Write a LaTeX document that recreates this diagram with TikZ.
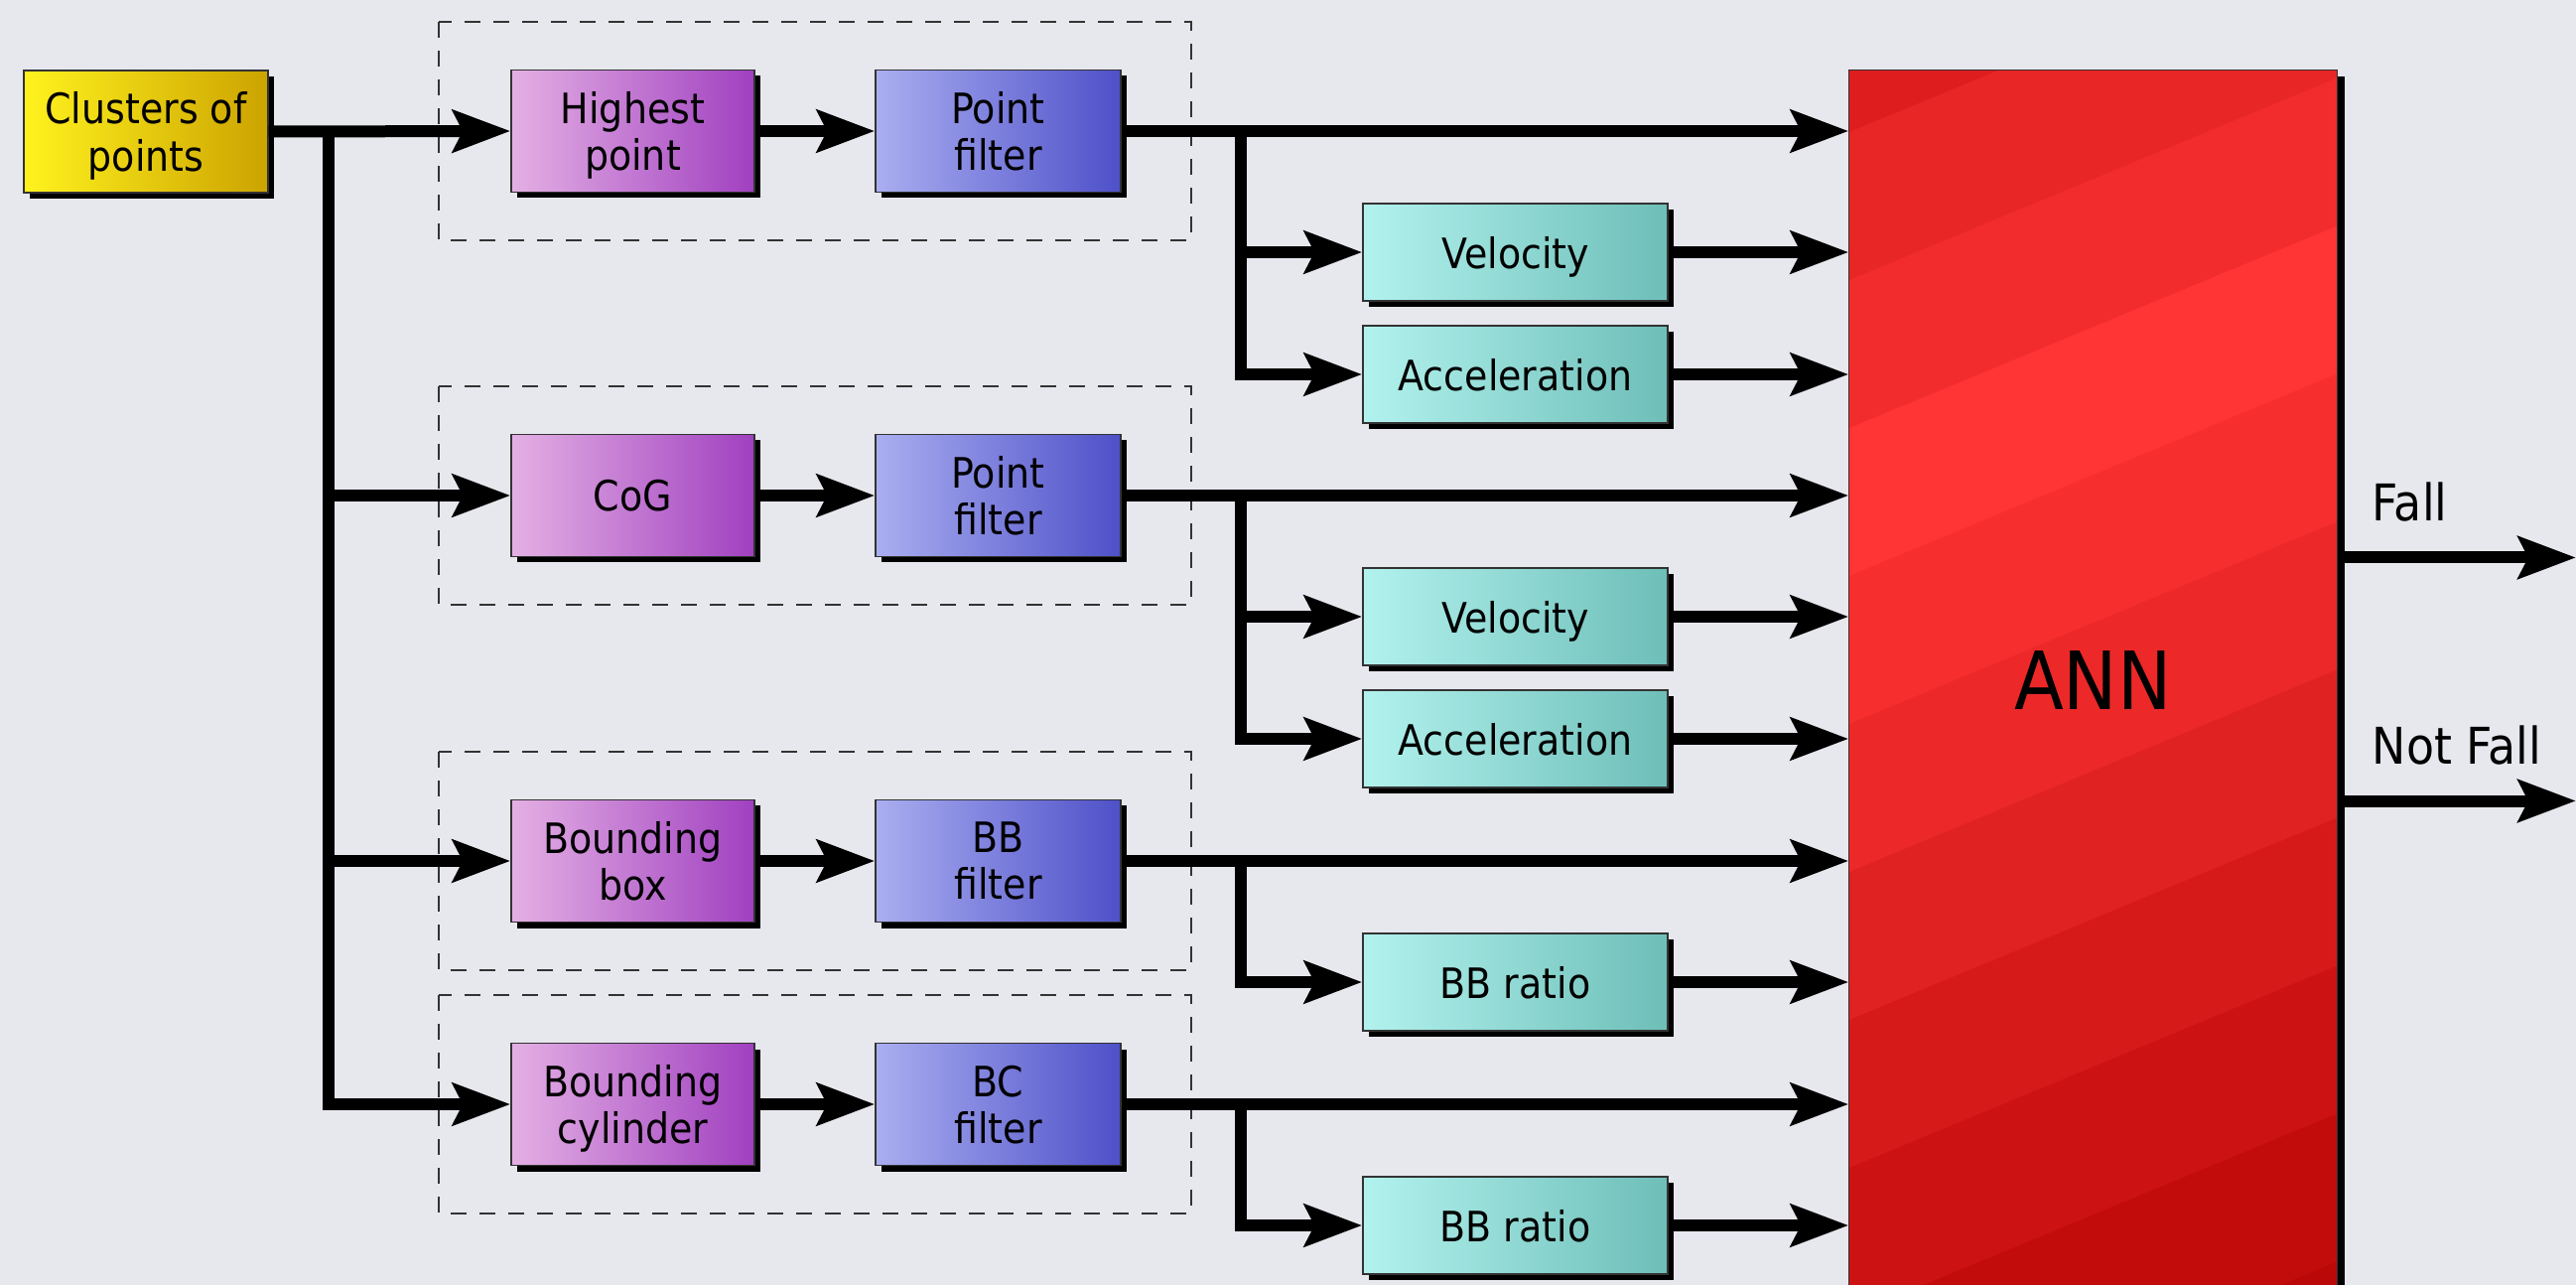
\documentclass[tikz,border=0pt]{standalone}
\usepackage{fontspec}
\setmainfont{DejaVu Sans}[FakeStretch=0.9]
\usepackage{tikz}
\usetikzlibrary{arrows.meta,shadows,positioning,calc}

\definecolor{bgcol}{HTML}{E7E7EE}
\definecolor{ylwL}{HTML}{FFF21E}
\definecolor{ylwR}{HTML}{CCA300}
\definecolor{pinkL}{HTML}{E4B0E4}
\definecolor{pinkR}{HTML}{A040C0}
\definecolor{blueL}{HTML}{AAAEF0}
\definecolor{blueR}{HTML}{4E50C8}
\definecolor{tealL}{HTML}{B2F2EE}
\definecolor{tealR}{HTML}{6EBEB8}
\definecolor{annbase}{HTML}{E82626}

\begin{document}
\begin{tikzpicture}[
  every node/.style={font=\fontsize{12}{13.4}\selectfont},
  block/.style={draw=black!80, line width=0.4pt, inner sep=0pt, align=center, text depth=0pt,
    drop shadow={shadow xshift=0.06cm, shadow yshift=-0.06cm, opacity=1, fill=black}},
  src/.style={block, minimum width=2.46cm, minimum height=1.23cm, left color=ylwL, right color=ylwR},
  feat/.style={block, minimum width=2.45cm, minimum height=1.23cm, left color=pinkL, right color=pinkR},
  filt/.style={block, minimum width=2.47cm, minimum height=1.23cm, left color=blueL, right color=blueR},
  deriv/.style={block, minimum width=3.07cm, minimum height=0.98cm, left color=tealL, right color=tealR},
  flow/.style={line width=0.12cm, -{Stealth[length=0.58cm, width=0.42cm, inset=0.1cm]}},
  group/.style={draw=black!80, line width=0.7pt, dash pattern=on 0.16cm off 0.13cm},
  outlabel/.style={anchor=base west, inner sep=0pt, font=\fontsize{14.5}{16}\selectfont}
]
  % Background
  \useasboundingbox (0,0) rectangle (25.95,-12.94);
  \fill[bgcol] (0,0) rectangle (25.95,-12.94);

  % Dashed groups
  \foreach \y in {-1.32, -4.99, -8.67, -11.12} {
    \draw[group] (4.42,{\y+1.1}) rectangle (12.00,{\y-1.1});
  }

  % Input
  \node[src] (clusters) at (1.47,-1.325) {Clusters of\\points};

  % Feature extraction
  \node[feat] (highest) at (6.375,-1.32) {Highest\\point};
  \node[feat] (cog) at (6.375,-4.99) {CoG};
  \node[feat] (bbox) at (6.375,-8.67) {Bounding\\box};
  \node[feat] (bcyl) at (6.375,-11.12) {Bounding\\cylinder};

  % Filters
  \node[filt] (pf1) at (10.055,-1.32) {Point\\filter};
  \node[filt] (pf2) at (10.055,-4.99) {Point\\filter};
  \node[filt] (bbf) at (10.055,-8.67) {BB\\filter};
  \node[filt] (bcf) at (10.055,-11.12) {BC\\filter};

  % Derived features
  \node[deriv] (vel1) at (15.265,-2.54) {Velocity};
  \node[deriv] (acc1) at (15.265,-3.77) {Acceleration};
  \node[deriv] (vel2) at (15.265,-6.21) {Velocity};
  \node[deriv] (acc2) at (15.265,-7.44) {Acceleration};
  \node[deriv] (ratio1) at (15.265,-9.89) {BB ratio};
  \node[deriv] (ratio2) at (15.265,-12.34) {BB ratio};

  % Classifier
  \node[block, fill=annbase, minimum width=4.91cm, minimum height=12.29cm,
    drop shadow={shadow xshift=0.08cm, shadow yshift=-0.06cm, opacity=1, fill=black}]
    (ann) at (21.085,-6.855) {};

  % Slanted bands on the classifier
  \begin{scope}
    \clip (ann.south west) rectangle (ann.north east);
    \foreach \j/\c in {0/DE1E1E, 1/E82626, 2/F22C2C, 3/FF3434, 4/F62E2E, 5/EC2828,
                       6/E02222, 7/D61A1A, 8/CC1212, 9/C20C0C, 10/BA0808, 11/B20404} {
      \definecolor{band}{HTML}{\c}
      \pgfmathsetmacro{\yt}{-1.33-1.49*(\j-1)}
      \pgfmathsetmacro{\yb}{-1.33-1.49*\j-0.01}
      \fill[band] (18.5,\yt-0.054) -- (23.7,\yt+2.10) -- (23.7,\yb+2.10) -- (18.5,\yb-0.054) -- cycle;
    }
  \end{scope}
  \draw[black!80, line width=0.4pt] (ann.south west) rectangle (ann.north east);
  \node[font=\fontsize{23}{26}\selectfont] (annlabel) at (ann.center) {ANN};

  % Input to features
  \coordinate (split) at (3.31,-1.32);
  \draw[flow] (clusters.east) -- (highest.west);
  \draw[flow] (split) |- (cog.west);
  \draw[flow] (split) |- (bbox.west);
  \draw[flow] (split) |- (bcyl.west);

  % Features to filters
  \draw[flow] (highest) -- (pf1);
  \draw[flow] (cog) -- (pf2);
  \draw[flow] (bbox) -- (bbf);
  \draw[flow] (bcyl) -- (bcf);

  % Filters to ANN
  \foreach \f in {pf1, pf2, bbf, bcf} {
    \draw[flow] (\f.east) -- (\f.east -| ann.west);
  }

  % Taps to derived features
  \coordinate (tap1) at (12.50,-1.32);
  \coordinate (tap2) at (12.50,-4.99);
  \coordinate (tap3) at (12.50,-8.67);
  \coordinate (tap4) at (12.50,-11.12);
  \draw[flow] (tap1) |- (vel1.west);
  \draw[flow] (tap1) |- (acc1.west);
  \draw[flow] (tap2) |- (vel2.west);
  \draw[flow] (tap2) |- (acc2.west);
  \draw[flow] (tap3) |- (ratio1.west);
  \draw[flow] (tap4) |- (ratio2.west);

  % Derived features to ANN
  \foreach \d in {vel1, acc1, vel2, acc2, ratio1, ratio2} {
    \draw[flow] (\d.east) -- (\d.east -| ann.west);
  }

  % Outputs
  \coordinate (fall) at (25.95,-5.615);
  \coordinate (notfall) at (25.95,-8.065);
  \draw[flow] (fall -| ann.east) -- (fall);
  \draw[flow] (notfall -| ann.east) -- (notfall);
  \node[outlabel] (falltxt) at (23.89,-5.25) {Fall};
  \node[outlabel] (notfalltxt) at (23.89,-7.70) {Not Fall};
\end{tikzpicture}
\end{document}
